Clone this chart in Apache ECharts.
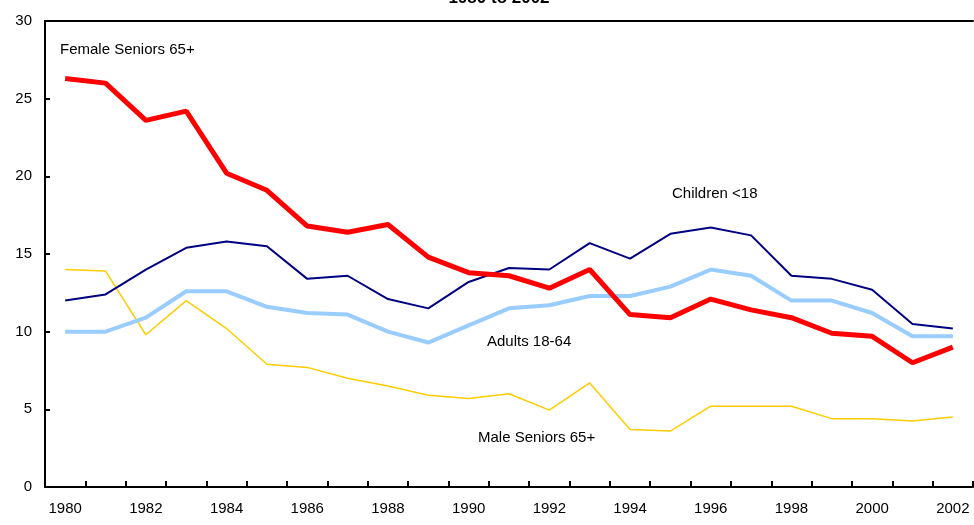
<!DOCTYPE html>
<html>
<head>
<meta charset="utf-8">
<script src="https://cdn.jsdelivr.net/npm/echarts@6/dist/echarts.min.js"></script>
<style>
    html, body { margin: 0; padding: 0; background: #ffffff; }
    #main { width: 974px; height: 525px; }
</style>
</head>
<body>
<div id="main"></div>
<script>
var years = ["1980", "1981", "1982", "1983", "1984", "1985", "1986", "1987", "1988", "1989", "1990",
    "1991", "1992", "1993", "1994", "1995", "1996", "1997", "1998", "1999", "2000", "2001", "2002"];

var femaleSeniors = [26.3, 26.0, 23.6, 24.2, 20.2, 19.1, 16.8, 16.4, 16.9, 14.8, 13.8,
    13.6, 12.8, 14.0, 11.1, 10.9, 12.1, 11.4, 10.9, 9.9, 9.7, 8.0, 9.0];
var children = [12.0, 12.4, 14.0, 15.4, 15.8, 15.5, 13.4, 13.6, 12.1, 11.5, 13.2,
    14.1, 14.0, 15.7, 14.7, 16.3, 16.7, 16.2, 13.6, 13.4, 12.7, 10.5, 10.2];
var adults = [10.0, 10.0, 10.9, 12.6, 12.6, 11.6, 11.2, 11.1, 10.0, 9.3, 10.4,
    11.5, 11.7, 12.3, 12.3, 12.9, 14.0, 13.6, 12.0, 12.0, 11.2, 9.7, 9.7];
var maleSeniors = [14.0, 13.9, 9.8, 12.0, 10.2, 7.9, 7.7, 7.0, 6.5, 5.9, 5.7,
    6.0, 4.95, 6.7, 3.7, 3.6, 5.2, 5.2, 5.2, 4.4, 4.4, 4.25, 4.5];

function chart() {
    var myChart = echarts.init(document.getElementById("main"));

    var labelFont = { fontFamily: "Liberation Sans, Arial, sans-serif", fontSize: 15, fill: "#000000" };

    var option = {
        animation: false,
        backgroundColor: "#ffffff",
        title: {
            text: "1980 to 2002",
            left: 494,
            textAlign: "center",
            top: -15,
            textStyle: {
                fontFamily: "Liberation Sans, Arial, sans-serif",
                fontSize: 17,
                fontWeight: "bold",
                color: "#000000",
            },
        },
        grid: {
            left: 45,
            right: 1,
            top: 21,
            bottom: 38,
        },
        xAxis: [
            {
                type: "category",
                data: years,
                boundaryGap: true,
                axisLine: { show: true, lineStyle: { color: "#000000", width: 2 } },
                axisTick: {
                    show: true,
                    interval: 0,
                    inside: true,
                    length: 6,
                    lineStyle: { color: "#000000", width: 2 },
                },
                axisLabel: {
                    interval: 1,
                    margin: 14,
                    color: "#000000",
                    fontFamily: "Liberation Sans, Arial, sans-serif",
                    fontSize: 15,
                },
            },
            {
                type: "category",
                data: years,
                position: "top",
                axisLine: { show: true, lineStyle: { color: "#000000", width: 2 } },
                axisTick: { show: false },
                axisLabel: { show: false },
            },
        ],
        yAxis: {
            type: "value",
            min: 0,
            max: 30,
            interval: 5,
            splitLine: { show: false },
            axisLine: { show: true, lineStyle: { color: "#000000", width: 2 } },
            axisTick: { show: true, inside: true, length: 5, lineStyle: { color: "#000000", width: 2 } },
            axisLabel: {
                margin: 13,
                color: "#000000",
                fontFamily: "Liberation Sans, Arial, sans-serif",
                fontSize: 15,
            },
        },
        graphic: [
            { type: "text", left: 60, top: 42, style: Object.assign({ text: "Female Seniors 65+" }, labelFont) },
            { type: "text", left: 672, top: 186, style: Object.assign({ text: "Children <18" }, labelFont) },
            { type: "text", left: 487, top: 334, style: Object.assign({ text: "Adults 18-64" }, labelFont) },
            { type: "text", left: 478, top: 430, style: Object.assign({ text: "Male Seniors 65+" }, labelFont) },
        ],
        series: [
            {
                name: "Male Seniors 65+",
                type: "line",
                data: maleSeniors,
                showSymbol: false,
                lineStyle: { color: "#ffcc00", width: 1.5 },
            },
            {
                name: "Children <18",
                type: "line",
                data: children,
                showSymbol: false,
                lineStyle: { color: "#000080", width: 2 },
            },
            {
                name: "Adults 18-64",
                type: "line",
                data: adults,
                showSymbol: false,
                lineStyle: { color: "#99ccff", width: 4 },
            },
            {
                name: "Female Seniors 65+",
                type: "line",
                data: femaleSeniors,
                showSymbol: false,
                lineStyle: { color: "#ff0000", width: 5 },
            },
        ],
    };

    myChart.setOption(option);
    window.addEventListener("resize", function () {
        myChart.resize();
    });
}

chart();
</script>
</body>
</html>
